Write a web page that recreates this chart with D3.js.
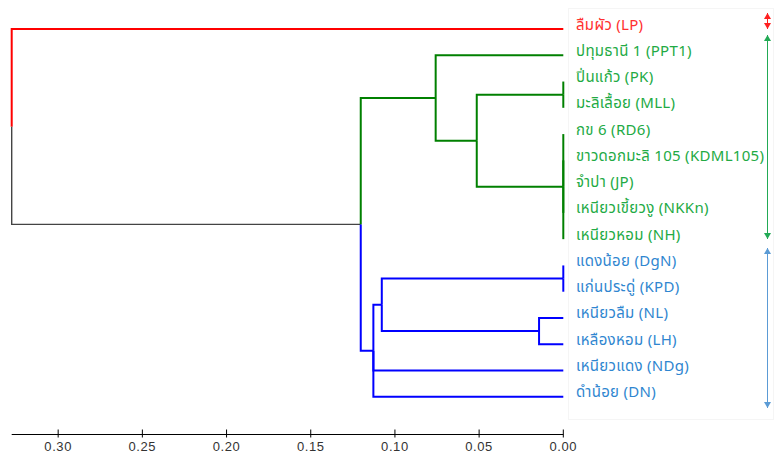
<!DOCTYPE html>
<html>
<head>
<meta charset="utf-8">
<script src="https://cdn.jsdelivr.net/npm/d3@7"></script>
<style>
  body { margin: 0; background: #fff; }
  svg { display: block; }
  .lbl { font-family: Tahoma, "Noto Sans Thai", "Noto Sans", sans-serif; font-size: 15px; letter-spacing: 0.3px; }
  .axis text { font-family: "Liberation Sans", Arial, sans-serif; font-size: 13px; letter-spacing: 0.6px; fill: #333; }
</style>
</head>
<body>
<svg id="chart" width="777" height="455"></svg>
<script>
// leaves, top to bottom
const leafLabels = ["ลืมผัว (LP)", "ปทุมธานี 1 (PPT1)", "ปิ่นแก้ว (PK)", "มะลิเลื้อย (MLL)", "กข 6 (RD6)",
  "ขาวดอกมะลิ 105 (KDML105)", "จำปา (JP)", "เหนียวเขี้ยวงู (NKKn)", "เหนียวหอม (NH)", "แดงน้อย (DgN)",
  "แก่นประดู่ (KPD)", "เหนียวลืม (NL)", "เหลืองหอม (LH)", "เหนียวแดง (NDg)", "ดำน้อย (DN)"];
const leafGroups = [0, 1, 1, 1, 1, 1, 1, 1, 1, 2, 2, 2, 2, 2, 2];

// merges: new node ids start at 15
const mergeKids = [[2, 3], [4, 5, 6, 7, 8], [15, 16], [1, 17], [9, 10], [11, 12], [19, 20], [21, 13, 14], [18, 22], [0, 23]];
const mergeHeights = [0, 0, 0.0514, 0.0758, 0, 0.0144, 0.1078, 0.1128, 0.1203, 0.3276];

const axisTicks = [0.30, 0.25, 0.20, 0.15, 0.10, 0.05, 0.00];

const lineColors = ["#ff0000", "#008000", "#0000ff"];
const textColors = ["#ff3030", "#22aa44", "#2f86d0"];
const markColors = ["#ff2020", "#22aa55", "#5b9bd5"];

const svg = d3.select("#chart");

// build tree nodes
let nodes = leafLabels.map((l, i) => ({id: i, name: l, h: 0, group: leafGroups[i]}));
mergeKids.forEach((kids, i) => {
    let ch = kids.map(k => nodes[k]);
    let g = ch.every(c => c.group === ch[0].group) ? ch[0].group : -1;
    nodes.push({id: nodes.length, h: mergeHeights[i], children: ch, group: g});
});
const root = d3.hierarchy(nodes[nodes.length - 1]);

const x = d3.scaleLinear().domain([0.3276, 0]).range([11.7, 563.3]);
const y = d3.scalePoint().domain(d3.range(leafLabels.length)).range([29, 396.8]);

// y of a node = midpoint of first and last child
root.eachAfter(d => {
    if (!d.children) d.y = y(d.data.id);
    else d.y = (d.children[0].y + d.children[d.children.length - 1].y) / 2;
    d.x = x(d.data.h);
});

// elbow links, coloured by child
svg.append("g").selectAll("path")
    .data(root.links())
    .enter()
    .append("path")
    .attr("d", l => `M${l.target.x},${l.target.y}H${l.source.x}V${l.source.y}`)
    .attr("fill", "none")
    .attr("stroke", l => l.target.data.group < 0 ? "#444" : lineColors[l.target.data.group])
    .attr("stroke-width", l => l.target.data.group < 0 ? 1.4 : 2);

// label panel
svg.append("rect")
    .attr("x", 568.5).attr("y", 8.5)
    .attr("width", 205).attr("height", 411)
    .attr("fill", "#fff").attr("stroke", "#f5f5f5");

svg.append("g").selectAll("text")
    .data(leafLabels)
    .enter()
    .append("text")
    .attr("class", "lbl")
    .attr("x", 576)
    .attr("y", (d, i) => y(i) + 0.5)
    .attr("fill", (d, i) => textColors[leafGroups[i]])
    .text(d => d);

// group brackets on right
const bx = 767.5;
const groupSpans = [[13, 29], [35, 239], [248, 408]];
groupSpans.forEach((s, i) => {
    let g = svg.append("g").attr("fill", markColors[i]).attr("stroke", markColors[i]);
    g.append("line").attr("x1", bx).attr("x2", bx).attr("y1", s[0]).attr("y2", s[1]).attr("stroke-width", 1);
    g.append("path").attr("stroke", "none").attr("d", `M${bx - 3.5},${s[0] + 6}L${bx + 3.5},${s[0] + 6}L${bx},${s[0]}Z`);
    g.append("path").attr("stroke", "none").attr("d", `M${bx - 3.5},${s[1] - 6}L${bx + 3.5},${s[1] - 6}L${bx},${s[1]}Z`);
});

// axis
const ax = svg.append("g").attr("class", "axis");
ax.append("line").attr("x1", 11.7).attr("x2", 563.3).attr("y1", 434.5).attr("y2", 434.5)
    .attr("stroke", "#000").attr("stroke-width", 1);
ax.selectAll(".tk").data(axisTicks).enter().append("line")
    .attr("x1", d => x(d)).attr("x2", d => x(d))
    .attr("y1", 429.5).attr("y2", 437.5)
    .attr("stroke", "#000");
ax.selectAll("text").data(axisTicks).enter().append("text")
    .attr("x", d => x(d)).attr("y", 451)
    .attr("text-anchor", "middle")
    .text(d3.format(".2f"));
</script>
</body>
</html>
